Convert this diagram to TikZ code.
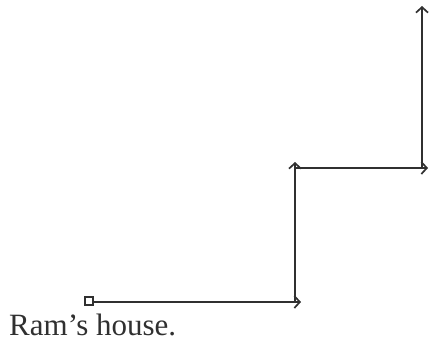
\documentclass[tikz,border=0pt]{standalone}
\usepackage{fontspec}
\setmainfont{Liberation Serif}
\usetikzlibrary{arrows.meta}
\definecolor{ink}{HTML}{303030}
\tikzset{
  route/.style={draw=ink, line width=1.9pt, -{Straight Barb[length=5.5pt,width=12pt,line width=1.7pt]}},
  startbox/.style={draw=ink, line width=1.6pt, minimum size=8pt, inner sep=0pt, fill=white},
  label/.style={font=\fontsize{31}{34}\selectfont, text=ink, inner sep=0pt, anchor=base west}
}
\begin{document}
\begin{tikzpicture}[x=1pt,y=-1pt]
\useasboundingbox (0,0) rectangle (429,343);
\node[startbox] (s) at (89,301) {};
\coordinate (c1) at (295,302);
\coordinate (t1) at (301,302);
\coordinate (c2) at (295,168);
\coordinate (t2) at (295,162);
\coordinate (c3) at (422,168);
\coordinate (t3) at (428,168);
\coordinate (t4) at (422,6);
\draw[route] (s.east |- c1) -- (t1);
\draw[route] (c1) -- (t2);
\draw[route] (c2) -- (t3);
\draw[route] (c3) -- (t4);
\node[label] (h) at (9,335) {Ram’s house.};
\end{tikzpicture}
\end{document}
